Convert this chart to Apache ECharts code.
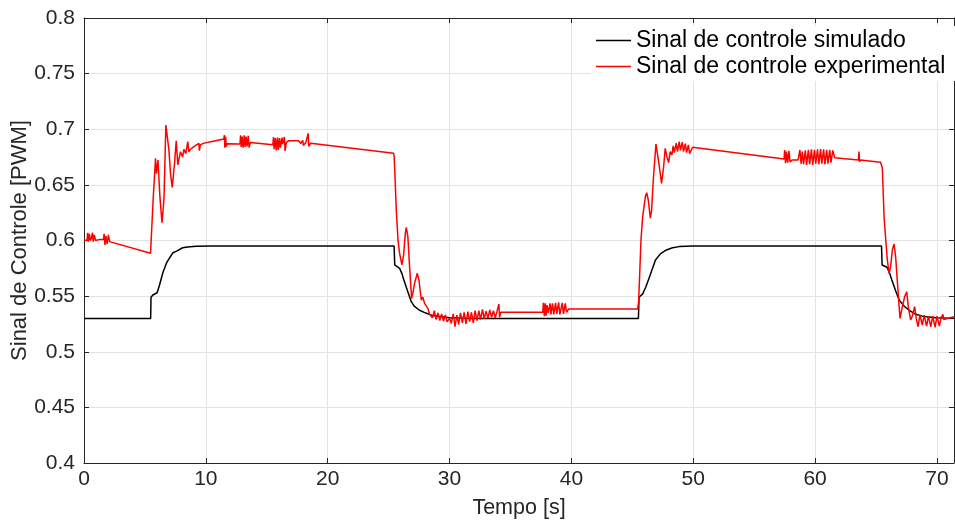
<!DOCTYPE html>
<html>
<head>
<meta charset="utf-8">
<title>Sinal de controle</title>
<script src="https://cdn.jsdelivr.net/npm/echarts/dist/echarts.min.js"></script>
<style>
  html, body { margin: 0; padding: 0; background: #fff; }
  #chart { width: 955px; height: 522px; }
</style>
</head>
<body>
<div id="chart"></div>
<script>
// valores (tempo em s, sinal em PWM)
const tSim = [0, 5.47, 5.5, 5.65, 6.0, 6.2, 6.37, 6.5, 6.78, 7.0, 7.3, 7.6, 8.1, 8.5, 9.2, 10.5, 25.45, 25.5, 25.9, 26.1, 26.25, 26.45, 26.86, 27.1, 27.5, 28.0, 28.6, 30, 31.5,
  45.5, 45.55, 45.85, 46.1, 46.4, 46.9, 47.3, 47.8, 48.3, 48.85, 50, 65.45, 65.5, 65.9, 66.1, 66.3, 66.6, 66.9, 67.3, 67.7, 68.2, 68.8, 69.9, 71.4]
const ySim = [0.530, 0.530, 0.549, 0.551, 0.553, 0.560, 0.567, 0.572, 0.580, 0.584, 0.589, 0.5905, 0.5935, 0.5942, 0.5948, 0.595, 0.595, 0.578, 0.575, 0.570, 0.5645, 0.558, 0.545, 0.541, 0.5375, 0.535, 0.5325, 0.5306, 0.530,
  0.530, 0.549, 0.552, 0.558, 0.567, 0.5825, 0.588, 0.5915, 0.5935, 0.5945, 0.595, 0.595, 0.578, 0.576, 0.571, 0.5645, 0.555, 0.5465, 0.541, 0.5375, 0.534, 0.532, 0.5305, 0.530]

const tExp = [0, 0.25, 0.3, 0.35, 0.45, 0.5, 0.6, 0.7, 0.75, 0.85, 0.95, 1.3, 1.6, 1.65, 1.72, 1.8, 1.9, 2.0, 2.1, 2.2, 5.46,
  5.68, 5.87, 5.95, 6.07, 6.23, 6.4, 6.56, 6.72, 6.83, 6.97, 7.1, 7.24, 7.43, 7.57, 7.7, 7.92, 8.09, 8.2, 8.35, 8.52, 8.6, 8.74, 9.1, 9.43, 9.47, 9.55, 9.78, 10.5, 11.48,
  11.52, 11.56, 11.62, 11.68, 11.75, 12.8,
  12.85, 12.9, 12.98, 13.05, 13.15, 13.22, 13.3, 13.38, 13.48, 13.55, 13.65, 13.8, 15.5,
  15.55, 15.6, 15.7, 15.78, 15.88, 15.95, 16.05, 16.12, 16.25, 16.3, 16.45, 16.5, 16.6, 16.8, 17.6, 17.8, 17.95, 18.0, 18.2, 18.4, 18.45, 18.6, 25.41,
  25.46, 25.63, 25.77, 25.9, 26.09, 26.23, 26.37, 26.45, 26.58, 26.72, 26.89, 26.99, 27.13, 27.35, 27.49, 27.68, 27.81, 27.95, 28.22, 28.35, 28.5,
  28.6, 28.75, 28.9, 29.05, 29.2, 29.35, 29.5, 29.65, 29.8, 30.0, 30.15, 30.3, 30.45, 30.6, 30.75, 30.9, 31.05, 31.2, 31.35, 31.5, 31.65, 31.8, 31.95,
  32.1, 32.25, 32.4, 32.55, 32.7, 32.85, 33.0, 33.15, 33.3, 33.45, 33.6, 33.75, 33.9, 34.05, 34.1, 34.2, 37.65,
  37.7, 37.78, 37.85, 37.93, 38.0, 38.1, 38.25, 38.32, 38.45, 38.55, 38.7, 38.8, 38.95, 39.05, 39.25, 39.35, 39.5, 39.6, 39.78, 45.44,
  45.52, 45.71, 45.85, 46.07, 46.18, 46.31, 46.48, 46.58, 46.72, 46.94, 47.16, 47.4, 47.57, 47.7, 47.84, 47.98, 48.11,
  48.25, 48.35, 48.45, 48.6, 48.7, 48.85, 48.95, 49.1, 49.2, 49.35, 49.45, 49.6, 49.7, 49.94, 57.46,
  57.5, 57.58, 57.65, 57.75, 57.85, 57.95, 58.1, 58.6,
  58.75, 58.85, 58.95, 59.05, 59.2, 59.3, 59.45, 59.55, 59.7, 59.8, 59.95, 60.05, 60.2, 60.3, 60.45, 60.55, 60.7, 60.8, 60.95, 61.05, 61.2, 61.3, 61.45, 61.6,
  63.55, 63.6, 63.65, 63.7, 65.38,
  65.52, 65.66, 65.8, 65.93, 66.07, 66.2, 66.34, 66.48, 66.61, 66.8, 66.97, 67.16, 67.35, 67.52, 67.65, 67.84, 67.98, 68.17, 68.3,
  68.45, 68.6, 68.8, 68.95, 69.15, 69.3, 69.5, 69.65, 69.85, 70.0, 70.2, 70.35, 70.5, 70.55, 70.7, 71.4]
const yExp = [0.6004, 0.600, 0.607, 0.599, 0.606, 0.600, 0.602, 0.607, 0.599, 0.605, 0.600, 0.601, 0.601, 0.606, 0.596, 0.604, 0.597, 0.605, 0.599, 0.599, 0.5885,
  0.638, 0.674, 0.660, 0.6723, 0.6394, 0.616, 0.6364, 0.7038, 0.7047, 0.681, 0.660, 0.6478, 0.6694, 0.6897, 0.668, 0.6798, 0.675, 0.682, 0.678, 0.6888, 0.6798, 0.682, 0.685, 0.6873, 0.6807, 0.686, 0.6873, 0.689, 0.6912,
  0.6948, 0.6835, 0.6935, 0.6845, 0.687, 0.6867,
  0.6945, 0.684, 0.6935, 0.6835, 0.6945, 0.684, 0.6935, 0.6845, 0.694, 0.6835, 0.688, 0.6867, 0.686,
  0.693, 0.682, 0.692, 0.681, 0.6925, 0.6815, 0.692, 0.6835, 0.6925, 0.6865, 0.693, 0.6805, 0.688, 0.6897, 0.6897, 0.6873, 0.690, 0.6855, 0.688, 0.6963, 0.6845, 0.6875, 0.6784,
  0.675, 0.6274, 0.6004, 0.5885, 0.578, 0.587, 0.6064, 0.6118, 0.6034, 0.5765, 0.548, 0.5525, 0.5615, 0.5705, 0.5645, 0.5465, 0.549, 0.5435, 0.539, 0.534, 0.5345,
  0.5305, 0.537, 0.529, 0.535, 0.528, 0.534, 0.5275, 0.533, 0.527, 0.530, 0.5255, 0.534, 0.5225, 0.533, 0.5245, 0.535, 0.526, 0.5355, 0.525, 0.536, 0.527, 0.5355, 0.526,
  0.537, 0.528, 0.537, 0.529, 0.538, 0.5295, 0.5365, 0.530, 0.5375, 0.531, 0.537, 0.5305, 0.5365, 0.543, 0.531, 0.5354, 0.5354,
  0.544, 0.532, 0.5435, 0.5325, 0.542, 0.535, 0.5435, 0.5335, 0.5435, 0.5335, 0.544, 0.534, 0.5445, 0.5335, 0.544, 0.534, 0.5435, 0.5355, 0.5384, 0.5384,
  0.545, 0.6004, 0.6214, 0.6394, 0.643, 0.6364, 0.620, 0.627, 0.6544, 0.6867, 0.6708, 0.6514, 0.6663, 0.6829, 0.6753, 0.670, 0.6798,
  0.677, 0.685, 0.679, 0.6875, 0.680, 0.6888, 0.681, 0.6885, 0.680, 0.687, 0.679, 0.686, 0.678, 0.6838, 0.6732,
  0.6813, 0.6694, 0.680, 0.670, 0.6805, 0.6705, 0.6723, 0.6723,
  0.6815, 0.669, 0.680, 0.6685, 0.681, 0.668, 0.6815, 0.6685, 0.682, 0.668, 0.6815, 0.669, 0.682, 0.6685, 0.6822, 0.669, 0.682, 0.6685, 0.6815, 0.669, 0.6815, 0.670, 0.681, 0.6744,
  0.6723, 0.680, 0.6705, 0.6723, 0.6703,
  0.665, 0.6214, 0.6004, 0.5825, 0.5705, 0.5765, 0.5915, 0.5968, 0.5854, 0.5555, 0.530, 0.5405, 0.5495, 0.554, 0.5405, 0.5285, 0.532, 0.5405, 0.530,
  0.5225, 0.533, 0.524, 0.533, 0.523, 0.532, 0.5225, 0.532, 0.522, 0.532, 0.523, 0.531, 0.5335, 0.529, 0.530, 0.5315]

const xTicks = [0, 10, 20, 30, 40, 50, 60, 70]

const zip = (xs, ys) => xs.map((x, i) => [x, ys[i]])

const chart = echarts.init(document.getElementById('chart'))

const axisColor = '#262626'
const gridColor = '#e3e3e3'
const font = '"Liberation Sans", Arial, sans-serif'

const option = {
  animation: false,
  backgroundColor: '#fff',
  grid: {
    left: 84,
    right: 1,
    top: 18,
    bottom: 59,
    containLabel: false,
    outerBoundsMode: 'none'
  },
  legend: {
    orient: 'vertical',
    left: 591,
    top: 26,
    padding: [3, 10, 3, 5],
    backgroundColor: '#fff',
    icon: 'rect',
    itemWidth: 35,
    itemHeight: 1.5,
    itemGap: 3,
    textStyle: {
      color: '#000',
      fontSize: 23,
      fontFamily: font
    },
    data: ['Sinal de controle simulado', 'Sinal de controle experimental']
  },
  xAxis: [
    {
      type: 'value',
      min: 0,
      max: 71.4,
      interval: 10,
      name: 'Tempo [s]',
      nameLocation: 'middle',
      nameGap: 34,
      nameMoveOverlap: false,
      nameTextStyle: { color: axisColor, fontSize: 21.5, fontFamily: font },
      axisLine: { onZero: false, lineStyle: { color: axisColor } },
      axisTick: { inside: true, length: 5, lineStyle: { color: axisColor } },
      axisLabel: {
        color: axisColor,
        fontSize: 21,
        fontFamily: font,
        margin: 6,
        showMaxLabel: false,
        formatter: v => xTicks.includes(v) ? String(v) : ''
      },
      splitLine: { show: true, lineStyle: { color: gridColor } }
    },
    {
      type: 'value',
      position: 'top',
      min: 0,
      max: 71.4,
      interval: 10,
      axisLine: { onZero: false, lineStyle: { color: axisColor } },
      axisTick: { inside: true, length: 5, lineStyle: { color: axisColor } },
      axisLabel: { show: false },
      splitLine: { show: false }
    }
  ],
  yAxis: [
    {
      type: 'value',
      min: 0.4,
      max: 0.8,
      interval: 0.05,
      name: 'Sinal de Controle [PWM]',
      nameLocation: 'middle',
      nameGap: 53,
      nameMoveOverlap: false,
      nameTextStyle: { color: axisColor, fontSize: 22, fontFamily: font },
      axisLine: { show: true, onZero: false, lineStyle: { color: axisColor } },
      axisTick: { show: true, inside: true, length: 5, lineStyle: { color: axisColor } },
      axisLabel: { color: axisColor, fontSize: 21, fontFamily: font, margin: 9 },
      splitLine: { show: true, lineStyle: { color: gridColor } }
    },
    {
      type: 'value',
      position: 'right',
      min: 0.4,
      max: 0.8,
      interval: 0.05,
      axisLine: { show: true, onZero: false, lineStyle: { color: axisColor } },
      axisTick: { show: true, inside: true, length: 5, lineStyle: { color: axisColor } },
      axisLabel: { show: false },
      splitLine: { show: false }
    }
  ],
  series: [
    {
      name: 'Sinal de controle simulado',
      type: 'line',
      data: zip(tSim, ySim),
      showSymbol: false,
      symbol: 'none',
      lineStyle: { color: '#000', width: 1.5 },
      itemStyle: { color: '#000' },
      z: 3
    },
    {
      name: 'Sinal de controle experimental',
      type: 'line',
      data: zip(tExp, yExp),
      showSymbol: false,
      symbol: 'none',
      lineStyle: { color: '#ff0000', width: 1.5 },
      itemStyle: { color: '#ff0000' },
      z: 4
    }
  ]
}

chart.setOption(option)
</script>
</body>
</html>
